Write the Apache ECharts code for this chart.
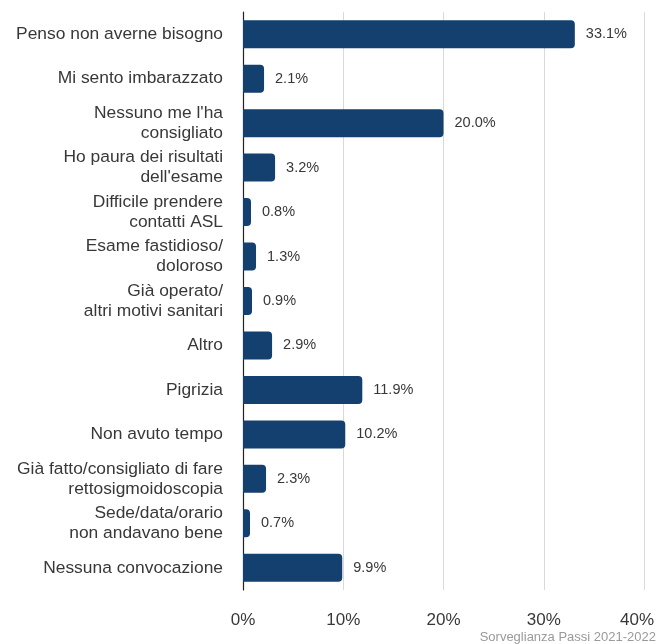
<!DOCTYPE html>
<html>
<head>
<meta charset="utf-8">
<script src="https://cdn.jsdelivr.net/npm/echarts@6/dist/echarts.min.js"></script>
<style>
  html, body { margin: 0; padding: 0; background: #fff; }
  #chart { width: 659px; height: 644px; }
</style>
</head>
<body>
<div id="chart"></div>
<script>
// Motivi della mancata esecuzione dello screening (valori percentuali)
const categories = [
  "Penso non averne bisogno",
  "Mi sento imbarazzato",
  "Nessuno me l'ha\nconsigliato",
  "Ho paura dei risultati\ndell'esame",
  "Difficile prendere\ncontatti ASL",
  "Esame fastidioso/\ndoloroso",
  "Già operato/\naltri motivi sanitari",
  "Altro",
  "Pigrizia",
  "Non avuto tempo",
  "Già fatto/consigliato di fare\nrettosigmoidoscopia",
  "Sede/data/orario\nnon andavano bene",
  "Nessuna convocazione"
];
const values = [33.1, 2.1, 20.0, 3.2, 0.8, 1.3, 0.9, 2.9, 11.9, 10.2, 2.3, 0.7, 9.9];
const xTicks = [0, 10, 20, 30, 40];
const sourceNote = "Sorveglianza Passi 2021-2022";

const FONT = '"Liberation Sans", Arial, sans-serif';
const chart = echarts.init(document.getElementById('chart'), null, { renderer: 'canvas' });

chart.setOption({
  animation: false,
  backgroundColor: '#ffffff',
  textStyle: { fontFamily: FONT },
  grid: { left: 243, right: 15, top: 12, bottom: 54, containLabel: false },
  graphic: [{
    type: 'text',
    right: 3,
    bottom: 0,
    style: { text: sourceNote, fill: '#9a9a9a', font: '13px ' + FONT }
  }],
  xAxis: {
    type: 'value',
    min: xTicks[0],
    max: xTicks[xTicks.length - 1],
    interval: 10,
    axisLine: { show: false },
    axisTick: { show: false },
    splitLine: { show: true, lineStyle: { color: '#d9d9d9', width: 1 } },
    axisLabel: {
      margin: 22,
      color: '#383838',
      fontSize: 17,
      fontFamily: FONT,
      formatter: function (v) {
        return v === xTicks[xTicks.length - 1] ? '{last|' + v + '%}' : v + '%';
      },
      rich: {
        last: { fontSize: 17, fontFamily: FONT, color: '#383838', padding: [0, 14, 0, 0] }
      }
    }
  },
  yAxis: {
    type: 'category',
    inverse: true,
    data: categories,
    axisLine: { show: true, lineStyle: { color: '#222222', width: 1.2 } },
    axisTick: { show: false },
    splitLine: { show: false },
    axisLabel: {
      margin: 20,
      color: '#383838',
      fontSize: 17.4,
      lineHeight: 20,
      fontFamily: FONT,
      align: 'right'
    }
  },
  series: [{
    type: 'bar',
    data: values,
    barWidth: 28,
    itemStyle: { color: '#14406f', borderRadius: [0, 4, 4, 0] },
    label: {
      show: true,
      position: 'right',
      distance: 11,
      color: '#383838',
      fontSize: 14.5,
      fontFamily: FONT,
      formatter: function (p) { return p.value.toFixed(1) + '%'; }
    }
  }]
});
</script>
</body>
</html>
